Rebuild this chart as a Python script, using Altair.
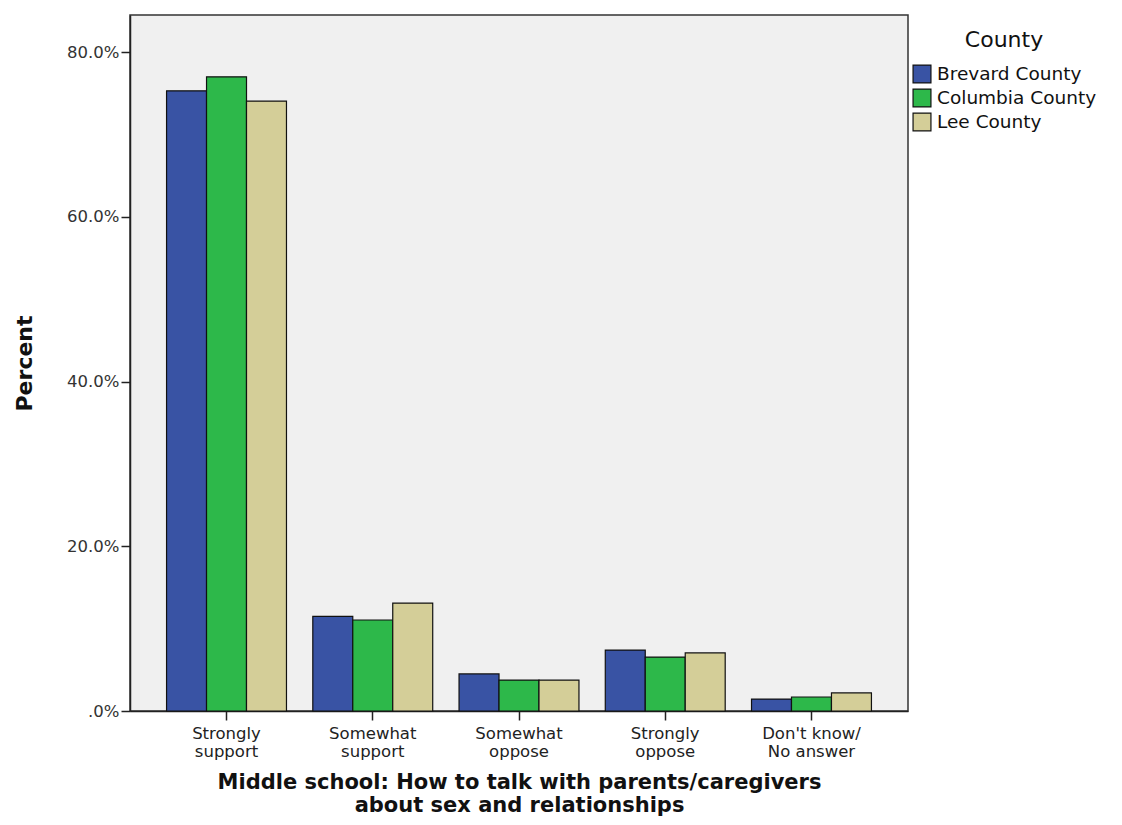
import altair as alt
import pandas as pd

categories = ["Strongly|support", "Somewhat|support", "Somewhat|oppose", "Strongly|oppose", "Don't know/|No answer"]
counties = ["Brevard County", "Columbia County", "Lee County"]
brevard = [75.3, 11.5, 4.5, 7.4, 1.45]
columbia = [77.0, 11.05, 3.75, 6.55, 1.7]
lee = [74.05, 13.1, 3.75, 7.05, 2.2]
colors = ["#3953A4", "#2DB84A", "#D4CE98"]

rows = []
for county, vals in zip(counties, [brevard, columbia, lee]):
    for c, v in zip(categories, vals):
        rows.append({"category": c, "County": county, "value": v})
df = pd.DataFrame(rows)

font = "DejaVu Sans"

chart = alt.Chart(df).mark_bar(stroke="#111111", strokeWidth=1.2).encode(
    x=alt.X("category:N", sort=categories,
            scale=alt.Scale(paddingInner=0.18, paddingOuter=0.25),
            axis=alt.Axis(labelAngle=0, labelExpr="split(datum.label, '|')",
                          labelFontSize=16.5, labelColor="#222222", labelFont=font,
                          tickSize=9, tickColor="#222222", tickWidth=1.5,
                          domainColor="#222222", domainWidth=1.5, labelPadding=5,
                          labelLineHeight=18,
                          title=["Middle school: How to talk with parents/caregivers",
                                 "about sex and relationships"],
                          titleFontSize=21, titleFont=font, titleFontWeight="bold",
                          titleColor="#111111", titlePadding=12, titleLineHeight=23)),
    xOffset=alt.XOffset("County:N", sort=counties, scale=alt.Scale(paddingInner=0, paddingOuter=0)),
    y=alt.Y("value:Q", scale=alt.Scale(domain=[0, 84.5], nice=False),
            axis=alt.Axis(values=[0, 20, 40, 60, 80],
                          labelExpr="datum.value == 0 ? '.0%' : format(datum.value, '.1f') + '%'",
                          labelFontSize=16.5, labelColor="#333333", labelFont=font,
                          tickSize=9, tickColor="#222222", tickWidth=1.5,
                          domainColor="#222222", domainWidth=1.5, grid=False,
                          title="Percent", titleFontSize=22, titleFont=font,
                          titleFontWeight="bold", titleColor="#111111", titlePadding=30)),
    color=alt.Color("County:N", sort=counties,
                    scale=alt.Scale(domain=counties, range=colors),
                    legend=alt.Legend(orient="none", legendX=782, legendY=15,
                                      title="County", titleFontSize=22, titleFont=font,
                                      titleFontWeight="normal", titleColor="#111111",
                                      titleAnchor="middle", titleAlign="center",
                                      titlePadding=12,
                                      labelFontSize=18.5, labelFont=font, labelColor="#111111",
                                      symbolType="square", symbolSize=320,
                                      symbolStrokeColor="#111111", symbolStrokeWidth=1.2,
                                      symbolOpacity=1, rowPadding=0, labelOffset=5)),
).properties(
    width=778, height=696,
    autosize=alt.AutoSizeParams(type="none"),
    padding={"left": 122, "top": 7, "right": 206, "bottom": 111},
    background="white",
).configure_view(
    fill="#F0F0F0", stroke="#333333", strokeWidth=1.5
)

chart.save("out.html", embed_options={"renderer": "svg", "actions": False})
